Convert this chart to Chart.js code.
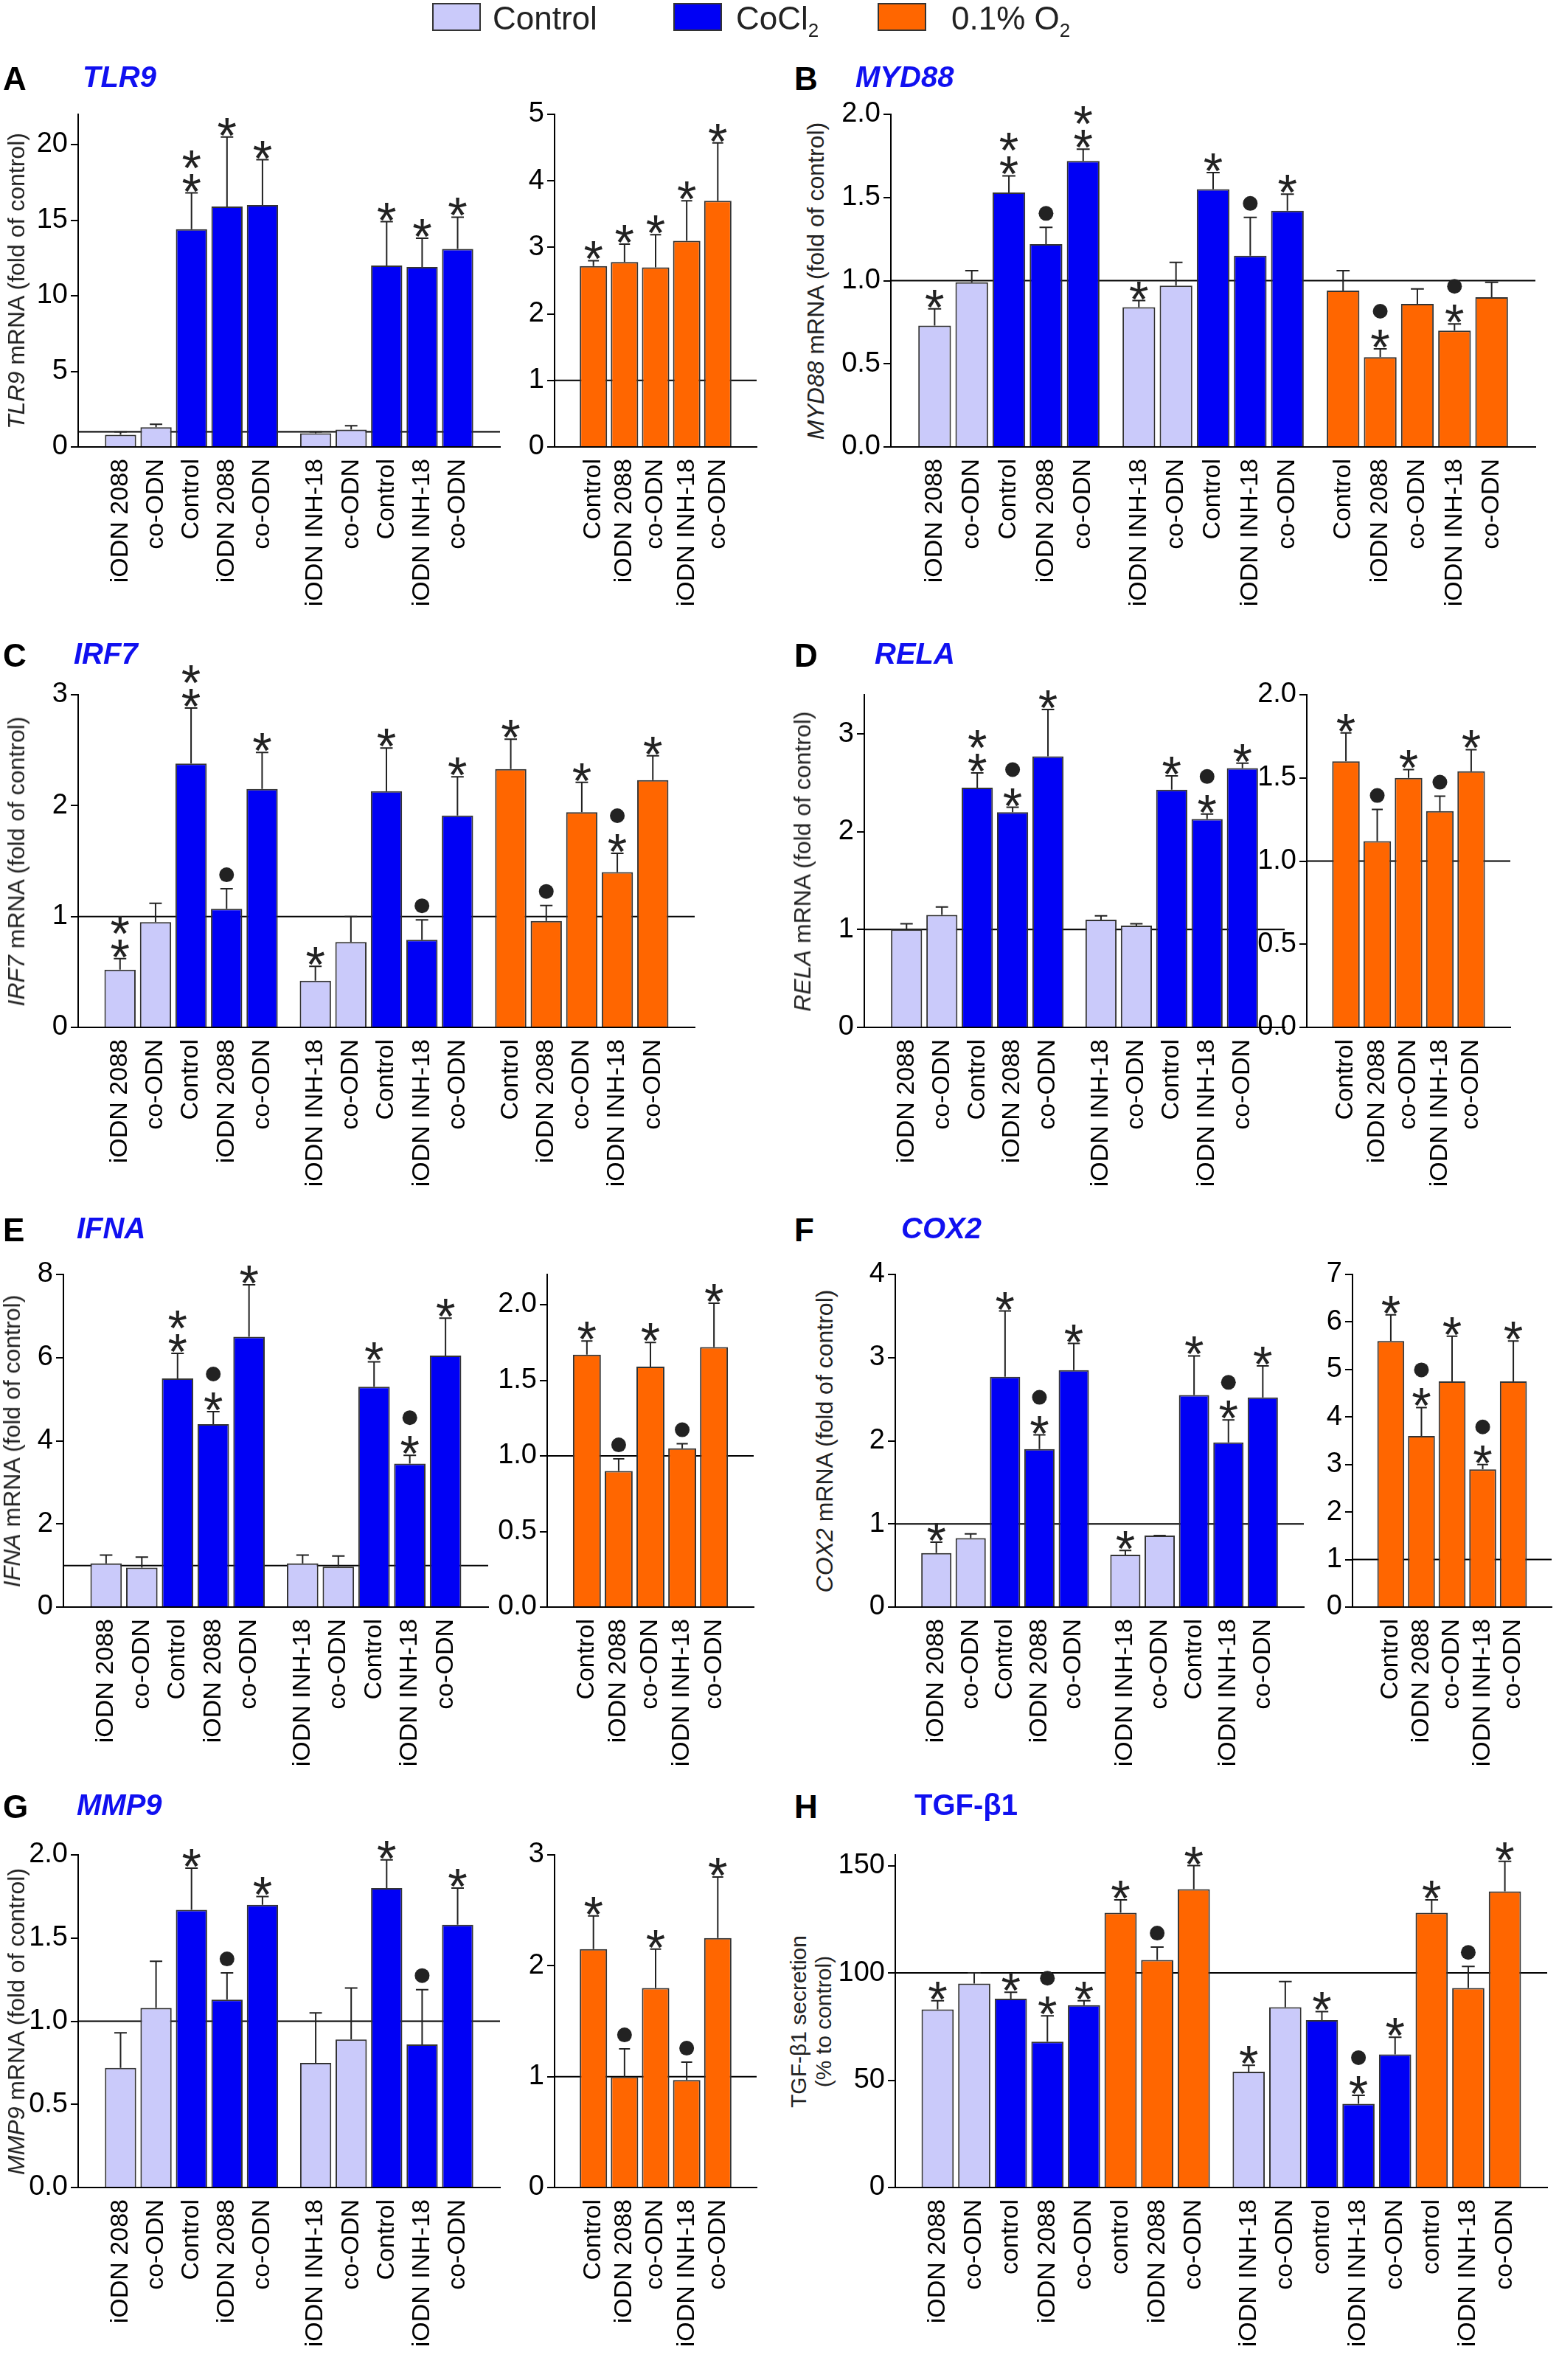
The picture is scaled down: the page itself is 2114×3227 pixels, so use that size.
<!DOCTYPE html>
<html><head><meta charset="utf-8">
<script src="https://cdn.jsdelivr.net/npm/chart.js@4"></script>
<style>
body{margin:0;width:2114px;height:3227px;background:#fff;position:relative;font-family:'Liberation Sans',Arial,sans-serif;overflow:hidden}
.a{position:absolute}
.let{font-weight:bold;font-size:44px;color:#000}
.tit{font-weight:bold;font-size:40px;color:#1010f0;font-style:italic}
.yt{position:absolute;font-size:32px;color:#222;white-space:nowrap;transform:translate(-50%,-50%) rotate(-90deg);text-align:center;line-height:34px}
.lg{position:absolute;font-size:44px;color:#222}
.sw{position:absolute;width:62px;height:34px;border:2px solid #333}
</style></head><body>
<script>
// ---------- DATA ----------
const L2088=['iODN 2088','co-ODN','Control','iODN 2088','co-ODN'];
const L18=['iODN INH-18','co-ODN','Control','iODN INH-18','co-ODN'];
const LO2=['Control','iODN 2088','co-ODN','iODN INH-18','co-ODN'];
const H_L1=['iODN 2088','co-ODN','control','iODN 2088','co-ODN','control','iODN 2088','co-ODN'];
const H_L2=['iODN INH-18','co-ODN','control','iODN INH-18','co-ODN','control','iODN INH-18','co-ODN'];
const G_CB=['c','c','b','b','b'];
const G_O=['o','o','o','o','o'];
const G_H=['c','c','b','b','b','o','o','o'];

const TLR9_V=[0.8,1.3,14.4,15.9,16.0, 0.9,1.15,12.0,11.9,13.1];
const TLR9_E=[1.0,1.5,16.8,20.5,19.0, 1.0,1.4,14.9,13.8,15.2];
const TLR9_M=['','','**','*','*', '','','*','*','*'];
const TLR9O_V=[2.72,2.78,2.70,3.10,3.70];
const TLR9O_E=[2.80,3.05,3.19,3.70,4.57];
const TLR9O_M=['*','*','*','*','*'];

const MYD_V=[0.73,0.99,1.53,1.22,1.72, 0.84,0.97,1.55,1.15,1.42, 0.94,0.54,0.86,0.70,0.90];
const MYD_E=[0.83,1.06,1.63,1.32,1.79, 0.88,1.11,1.65,1.38,1.52, 1.06,0.59,0.95,0.74,0.99];
const MYD_M=['*','','**','o','**', '*','','*','o','*', '','o*','','o*',''];

const IRF_V=[0.52,0.95,2.38,1.07,2.15, 0.42,0.77,2.13,0.79,1.91, 2.33,0.96,1.94,1.40,2.23];
const IRF_E=[0.62,1.12,2.88,1.25,2.48, 0.55,1.00,2.52,0.97,2.26, 2.60,1.10,2.21,1.57,2.45];
const IRF_M=['**','','**','o','*', '*','','*','o','*', '*','o','*','o*','*'];

const RELA_V=[1.00,1.15,2.45,2.20,2.77, 1.10,1.04,2.43,2.13,2.65];
const RELA_E=[1.06,1.23,2.60,2.25,3.25, 1.14,1.06,2.57,2.18,2.70];
const RELA_M=['','','**','o*','*', '','','*','o*','*'];
const RELAO_V=[1.60,1.12,1.50,1.30,1.54];
const RELAO_E=[1.77,1.31,1.55,1.39,1.67];
const RELAO_M=['*','o','*','o','*'];

const IFNA_V=[1.05,0.95,5.50,4.40,6.50, 1.05,0.97,5.30,3.45,6.05];
const IFNA_E=[1.25,1.20,6.10,4.70,7.75, 1.25,1.23,5.90,3.65,6.95];
const IFNA_M=['','','**','o*','*', '','','*','o*','*'];
const IFNAO_V=[1.67,0.90,1.59,1.05,1.72];
const IFNAO_E=[1.76,0.98,1.75,1.08,2.01];
const IFNAO_M=['*','o','*','o','*'];

const COX_V=[0.65,0.83,2.77,1.90,2.85, 0.63,0.86,2.55,1.98,2.52];
const COX_E=[0.78,0.88,3.56,2.07,3.17, 0.68,0.86,3.02,2.25,2.90];
const COX_M=['*','','*','o*','*', '*','','*','o*','*'];
const COXO_V=[5.60,3.60,4.75,2.90,4.75];
const COXO_E=[6.15,4.20,5.70,3.00,5.60];
const COXO_M=['*','o*','*','o*','*'];

const MMP_V=[0.72,1.08,1.67,1.13,1.70, 0.75,0.89,1.80,0.86,1.58];
const MMP_E=[0.93,1.36,1.92,1.29,1.75, 1.05,1.20,1.97,1.19,1.80];
const MMP_M=['','','*','o','*', '','','*','o','*'];
const MMPO_V=[2.15,1.00,1.80,0.97,2.25];
const MMPO_E=[2.45,1.25,2.15,1.13,2.80];
const MMPO_M=['*','o','*','o','*'];

const TGF_V=[83,95,88,68,85,128,106,139, 54,84,78,39,62,128,93,138];
const TGF_E=[87,100,91,80,87,134,112,150, 57,96,82,43,70,134,103,152];
const TGF_M=['*','','*','o*','*','*','o','*', '*','','*','o*','*','*','o','*'];

// ---------- RENDER ----------
const COL={c:'#cacafa',b:'#0000f5',o:'#ff6600'};
const ROWT=[155,942,1728,2515], PH=451, PADT=100, XH=240, YW=78;

function positions(sizes){const p=[];let x=0;sizes.forEach((n,k)=>{for(let i=0;i<n;i++){p.push(x);x+=1;}x+=0.5;});return p;}

const deco={id:'deco',
 beforeDatasetsDraw(ch){const o=ch.options.plugins.deco,ys=ch.scales.y,a=ch.chartArea,c=ch.ctx;
  const y=ys.getPixelForValue(o.ref);c.save();c.strokeStyle='#000';c.lineWidth=2;c.beginPath();c.moveTo(a.left,y);c.lineTo(a.right,y);c.stroke();c.restore();},
 afterDatasetsDraw(ch){const o=ch.options.plugins.deco,ys=ch.scales.y,c=ch.ctx;const meta=ch.getDatasetMeta(0);
  c.save();
  meta.data.forEach((el,i)=>{const yv=ys.getPixelForValue(o.vals[i]),ye=ys.getPixelForValue(o.errs[i]);const x=el.x,cw=el.width*0.2;
   c.strokeStyle='#222';c.lineWidth=2;c.beginPath();c.moveTo(x,yv);c.lineTo(x,ye);c.moveTo(x-cw,ye);c.lineTo(x+cw,ye);c.stroke();
   const m=o.marks[i]||'';let yy=ye-8;
   for(let k=m.length-1;k>=0;k--){
     if(m[k]==='*'){c.fillStyle='#222';c.font='68px "Liberation Sans"';c.textAlign='center';c.textBaseline='alphabetic';c.fillText('*',x,yy+29);yy-=32;}
     else {c.fillStyle='#222';c.beginPath();c.arc(x,yy-11,10,0,Math.PI*2);c.fill();yy-=28;}
   }
  });
  c.restore();}};
Chart.register(deco);

function chart(o){
 const left=o.x-YW, w=o.w+YW, top=ROWT[o.row]-PADT, h=PADT+PH+XH;
 const cv=document.createElement('canvas');cv.width=w;cv.height=h;cv.className='a';cv.style.left=left+'px';cv.style.top=top+'px';
 document.body.appendChild(cv);
 const pos=positions(o.sizes);
 const st=o.step;
 new Chart(cv,{type:'bar',
  data:{datasets:[{data:pos.map((p,i)=>({x:p,y:o.vals[i]})),backgroundColor:o.groups.map(g=>COL[g]),borderColor:'#333',borderWidth:2,barPercentage:0.88,categoryPercentage:1,borderSkipped:'bottom'}]},
  options:{responsive:false,animation:false,devicePixelRatio:1,events:[],
   layout:{padding:{top:PADT,right:4,left:0,bottom:0}},
   plugins:{legend:{display:false},tooltip:{enabled:false},deco:{ref:o.ref,vals:o.vals,errs:o.errs,marks:o.marks}},
   scales:{
    x:{type:'linear',min:-0.6,max:pos[pos.length-1]+0.6,grid:{display:false},border:{color:'#000',width:2},
     afterBuildTicks(s){s.ticks=pos.map(v=>({value:v}));},
     ticks:{autoSkip:false,minRotation:90,maxRotation:90,padding:8,color:'#000',font:{size:34,family:'Liberation Sans'},callback:(v,i)=>o.labels[i]},
     afterFit(s){s.height=XH;}},
    y:{min:0,max:o.max,grid:{drawOnChartArea:false,tickLength:10,color:'#000',lineWidth:2},border:{color:'#000',width:2},
     afterBuildTicks(s){const t=[];for(let v=0;v<=o.max+1e-9;v+=st)t.push({value:Math.round(v*1000)/1000});s.ticks=t;},
     ticks:{stepSize:st,color:'#000',padding:4,font:{size:38,family:'Liberation Sans Narrow, Liberation Sans'},callback:v=>v.toFixed(o.dec)},
     afterFit(s){s.width=YW;}}
   }}});
}
function g(a,n){let r=[];for(let i=0;i<n;i++)r=r.concat(a);return r;}

// A
chart({row:0,x:106,w:576,sizes:[5,5],labels:L2088.concat(L18),vals:TLR9_V,errs:TLR9_E,marks:TLR9_M,groups:g(G_CB,2),max:22,step:5,dec:0,ref:1});
chart({row:0,x:752,w:278,sizes:[5],labels:LO2,vals:TLR9O_V,errs:TLR9O_E,marks:TLR9O_M,groups:G_O,max:5,step:1,dec:0,ref:1});
// B
chart({row:0,x:1208,w:878,sizes:[5,5,5],labels:L2088.concat(L18,LO2),vals:MYD_V,errs:MYD_E,marks:MYD_M,groups:G_CB.concat(G_CB,G_O),max:2,step:0.5,dec:1,ref:1});
// C
chart({row:1,x:106,w:840,sizes:[5,5,5],labels:L2088.concat(L18,LO2),vals:IRF_V,errs:IRF_E,marks:IRF_M,groups:G_CB.concat(G_CB,G_O),max:3,step:1,dec:0,ref:1});
// D
chart({row:1,x:1172,w:574,sizes:[5,5],labels:L2088.concat(L18),vals:RELA_V,errs:RELA_E,marks:RELA_M,groups:g(G_CB,2),max:3.4,step:1,dec:0,ref:1});
chart({row:1,x:1772,w:280,sizes:[5],labels:LO2,vals:RELAO_V,errs:RELAO_E,marks:RELAO_M,groups:G_O,max:2,step:0.5,dec:1,ref:1});
// E
chart({row:2,x:86,w:580,sizes:[5,5],labels:L2088.concat(L18),vals:IFNA_V,errs:IFNA_E,marks:IFNA_M,groups:g(G_CB,2),max:8,step:2,dec:0,ref:1});
chart({row:2,x:742,w:284,sizes:[5],labels:LO2,vals:IFNAO_V,errs:IFNAO_E,marks:IFNAO_M,groups:G_O,max:2.2,step:0.5,dec:1,ref:1});
// F
chart({row:2,x:1214,w:558,sizes:[5,5],labels:L2088.concat(L18),vals:COX_V,errs:COX_E,marks:COX_M,groups:g(G_CB,2),max:4,step:1,dec:0,ref:1});
chart({row:2,x:1834,w:274,sizes:[5],labels:LO2,vals:COXO_V,errs:COXO_E,marks:COXO_M,groups:G_O,max:7,step:1,dec:0,ref:1});
// G
chart({row:3,x:106,w:576,sizes:[5,5],labels:L2088.concat(L18),vals:MMP_V,errs:MMP_E,marks:MMP_M,groups:g(G_CB,2),max:2,step:0.5,dec:1,ref:1});
chart({row:3,x:752,w:278,sizes:[5],labels:LO2,vals:MMPO_V,errs:MMPO_E,marks:MMPO_M,groups:G_O,max:3,step:1,dec:0,ref:1});
// H
chart({row:3,x:1214,w:888,sizes:[8,8],labels:H_L1.concat(H_L2),vals:TGF_V,errs:TGF_E,marks:TGF_M,groups:G_H.concat(G_H),max:155,step:50,dec:0,ref:100});

// ---------- TEXT ----------
function add(html,cls,x,y,style){const d=document.createElement('div');d.className=cls;d.innerHTML=html;d.style.left=x+'px';d.style.top=y+'px';if(style)d.style.cssText+=style;document.body.appendChild(d);}
const LET=[['A',4,82],['B',1077,82],['C',4,864],['D',1077,864],['E',4,1643],['F',1077,1643],['G',4,2425],['H',1077,2425]];
LET.forEach(l=>add(l[0],'a let',l[1],l[2]));
const TIT=[['TLR9',112,82],['MYD88',1160,82],['IRF7',100,864],['RELA',1186,864],['IFNA',104,1643],['COX2',1222,1643],['MMP9',104,2425],['TGF-β1',1240,2425,'font-style:normal']];
TIT.forEach(t=>add(t[0],'a tit',t[1],t[2],t[3]||''));
const YT=[['<i>TLR9</i> mRNA (fold of control)',22,0],['<i>MYD88</i> mRNA (fold of control)',1106,0],['<i>IRF7</i> mRNA (fold of control)',22,1],['<i>RELA</i> mRNA (fold of control)',1088,1],
 ['<i>IFNA</i> mRNA (fold of control)',16,2],['<i>COX2</i> mRNA (fold of control)',1118,2],['<i>MMP9</i> mRNA (fold of control)',22,3],['TGF-β1 secretion<br>(% to control)',1100,3,'font-size:30px']];
YT.forEach(t=>add(t[0],'yt',t[1],ROWT[t[2]]+PH/2,t[3]||''));
// legend
add('','sw',586,4,'background:#cacafa');add('Control','lg',668,0);
add('','sw',913,4,'background:#0000f5');add('CoCl<sub style="font-size:26px">2</sub>','lg',998,0);
add('','sw',1190,4,'background:#ff6600');add('0.1% O<sub style="font-size:26px">2</sub>','lg',1290,0);
</script>
</body></html>
